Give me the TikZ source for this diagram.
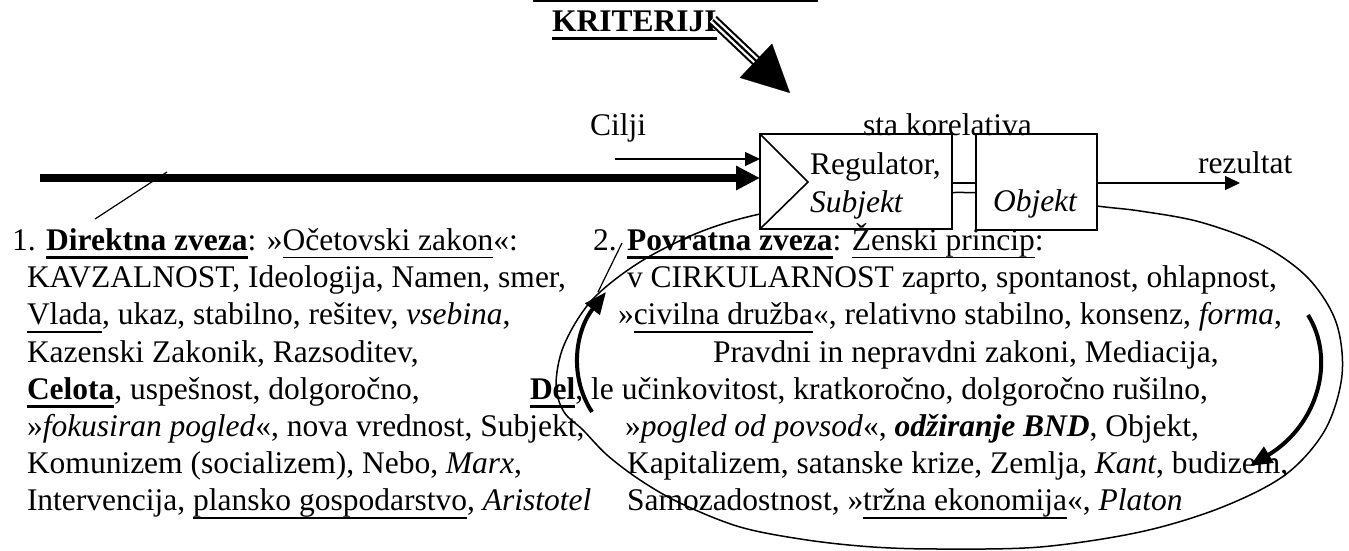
\documentclass[tikz,border=0pt]{standalone}
\usepackage{fontspec}
\setmainfont{Liberation Serif}
\usetikzlibrary{arrows.meta,calc}
\newcommand{\fsz}{\fontsize{15.75pt}{18pt}\selectfont}
\newsavebox{\ulbox}
\newcommand{\ulx}[1]{\sbox{\ulbox}{#1}\rlap{\rule[-3.9pt]{\wd\ulbox}{0.8pt}}\usebox{\ulbox}}
\newcommand{\bulx}[1]{\sbox{\ulbox}{\textbf{#1}}\rlap{\rule[-4.2pt]{\wd\ulbox}{1.6pt}}\usebox{\ulbox}}
\begin{document}
\begin{tikzpicture}[x=0.5pt,y=-0.5pt,
  every node/.style={inner sep=0pt,outer sep=0pt},
  txt/.style={anchor=base west,font=\fsz},
  box/.style={draw,line width=0.9pt,fill=white,anchor=north west},
  thinarrow/.style={line width=0.7pt,-{Triangle[length=7.5pt,width=7pt]}},
  thickarc/.style={line width=2pt,-{Triangle[length=11pt,width=9pt]}},
  pointer/.style={line width=0.6pt}]
\useasboundingbox (0,0) rectangle (1349,551);

% cut-off text underline at the top
\coordinate (tl1) at (533,1);
\coordinate (tl2) at (818,1);
\draw[line width=1pt] (tl1) -- (tl2);

% KRITERIJI with triple arrow
\node[txt] (krit) at (552,32) {\bulx{KRITERIJI}};
\coordinate (kstart) at (713,20);
\coordinate (ktip) at (790,93);
\coordinate (kbase) at ($(ktip)!23pt!(kstart)$);
\draw[line width=5.5pt] (kstart) -- ($(kbase)!-2pt!(kstart)$);
\draw[white,line width=3.4pt,shorten <=-0.5pt] (kstart) -- ($(kbase)!-2pt!(kstart)$);
\draw[line width=1.1pt] (kstart) -- ($(kbase)!-2pt!(kstart)$);
\draw[line width=0.1pt,-{Triangle[length=23.5pt,width=23.5pt]}] (kbase) -- (ktip);

% feedback loop (ellipse), drawn below the boxes
\draw[line width=0.75pt] plot[smooth cycle,tension=0.55] coordinates {
 (760,214) (700,232) (640,262) (592,300) (564,345) (556,385) (564,412)
 (583,430) (607,455) (640,480) (680,503) (740,527) (807,540) (873,547)
 (940,549) (1040,547) (1140,532) (1220,508) (1285,475) (1325,430)
 (1342,375) (1336,322) (1308,278) (1262,245) (1200,222) (1140,211)
 (1097,206) (1030,196) (964,192.5) (900,195) (830,204)};

% boxes
\node[box,minimum width=96pt,minimum height=47.5pt] (reg) at (760,134) {};
\node[box,minimum width=60.5pt,minimum height=48pt] (obj) at (976,134) {};
\coordinate (apex) at (808,182);
\draw[line width=0.8pt] (reg.north west) -- (apex) -- (reg.south west);
\node[txt] (regl) at (810,175) {Regulator,};
\node[txt] (subj) at (810,212) {\textit{Subjekt}};
\node[txt] (objl) at (993,211) {\textit{Objekt}};

% link between the boxes
\coordinate (lnk) at (0,183);
\draw[line width=0.8pt] (reg.east |- lnk) -- (obj.west |- lnk);
\node[txt] (kor) at (863,135) {sta korelativa};

% inputs
\node[txt] (cilji) at (590,135) {Cilji};
\coordinate (cstart) at (615,159);
\draw[thinarrow] (cstart) -- (cstart -| reg.west);
\coordinate (tstart) at (40,178);
\draw[line width=4pt,-{Triangle[length=12pt,width=11.5pt]}] (tstart) -- (tstart -| reg.west);

% output
\coordinate (res) at (1240,183);
\draw[thinarrow] (obj.east |- res) -- (res);
\node[txt] (rez) at (1198,173) {rezultat};

% pointers
\coordinate (p1a) at (95,219);
\coordinate (p1b) at (167,172);
\draw[pointer] (p1a) -- (p1b);
\coordinate (p2a) at (622,243);
\coordinate (p2b) at (598,292);
\draw[pointer] (p2a) -- (p2b);

% thick circular arrows
\coordinate (la1) at (592,412);
\coordinate (la2) at (606,292);
\draw[thickarc] (la1) .. controls (568,375) and (576,330) .. (la2);
\coordinate (ra1) at (1308,315);
\coordinate (ra2) at (1250,466);
\draw[thickarc] (ra1) .. controls (1336,360) and (1318,425) .. (ra2);

% left column
\node[txt] (l1) at (12,250.5) {1. \bulx{Direktna zveza}: »\ulx{Očetovski zakon}«:};
\node[txt] (l2) at (27,287.7) {KAVZALNOST, Ideologija, Namen, smer,};
\node[txt] (l3) at (27,324.9) {\ulx{Vlada}, ukaz, stabilno, rešitev, \textit{vsebina},};
\node[txt] (l4) at (27,362.1) {Kazenski Zakonik, Razsoditev,};
\node[txt] (l5) at (27,399.3) {\bulx{Celota}, uspešnost, dolgoročno,};
\node[txt] (l6) at (27,436.5) {»\textit{fokusiran pogled}«, nova vrednost, Subjekt,};
\node[txt] (l7) at (27,473.7) {Komunizem (socializem), Nebo, \textit{Marx},};
\node[txt] (l8) at (27,510.9) {Intervencija, \ulx{plansko gospodarstvo}, \textit{Aristotel}};

% right column
\node[txt] (r1) at (593,250.5) {2. \bulx{Povratna zveza}: \ulx{Ženski princip}:};
\node[txt] (r2) at (627,287.7) {v CIRKULARNOST zaprto, spontanost, ohlapnost,};
\node[txt] (r3) at (618,324.9) {»\ulx{civilna družba}«, relativno stabilno, konsenz, \textit{forma},};
\node[txt] (r4) at (713,362.1) {Pravdni in nepravdni zakoni, Mediacija,};
\node[txt] (r5) at (530,399.3) {\bulx{Del}, le učinkovitost, kratkoročno, dolgoročno rušilno,};
\node[txt] (r6) at (625,436.5) {»\textit{pogled od povsod}«, \textbf{\textit{odžiranje BND}}, Objekt,};
\node[txt] (r7) at (627,473.7) {Kapitalizem, satanske krize, Zemlja, \textit{Kant}, budizem,};
\node[txt] (r8) at (627,510.9) {Samozadostnost, »\ulx{tržna ekonomija}«, \textit{Platon}};
\end{tikzpicture}
\end{document}
